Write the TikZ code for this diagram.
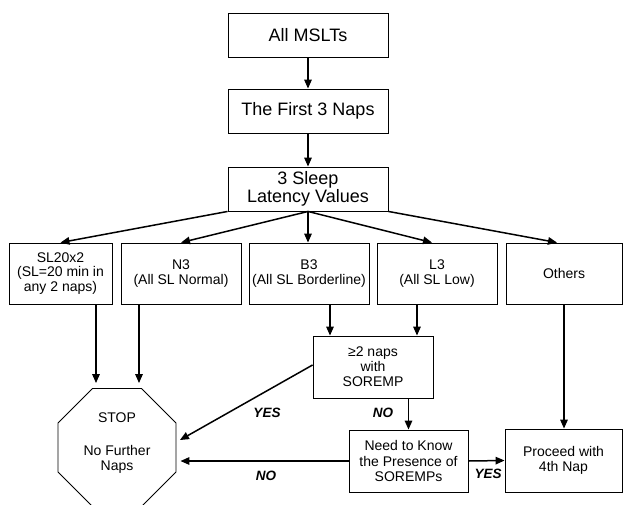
\documentclass[tikz,border=0pt]{standalone}
\usepackage{fontspec}
\setmainfont{Liberation Sans}
\usetikzlibrary{arrows.meta,shapes.geometric,calc}
\begin{document}
\begin{tikzpicture}[x=1pt,y=-1pt,
  box/.style={draw, line width=0.9pt, inner sep=2pt, align=center, font=\fontsize{14}{15.5}\selectfont},
  bigbox/.style={box, minimum width=160pt, minimum height=44pt, font=\fontsize{18}{17.5}\selectfont},
  rowbox/.style={box, minimum height=61pt},
  arr/.style={line width=1.5pt, -{Triangle[length=9pt,width=7.5pt]}},
  lab/.style={font=\fontsize{13.5}{13.5}\selectfont\bfseries\itshape}]
\useasboundingbox (0,0) rectangle (623,504);
\node[bigbox] (all) at (308,35) {All MSLTs};
\node[bigbox] (first) at (308,111) {The First 3 Naps};
\node[bigbox] (slv) at (308,189) {3 Sleep\\Latency Values};
\node[rowbox, minimum width=103pt, font=\fontsize{14}{14.3}\selectfont] (sl20) at (60.5,273.5) {SL20x2\\(SL=20 min in\\any 2 naps)};
\node[rowbox, minimum width=120pt] (n3) at (181,273.5) {N3\\(All SL Normal)};
\node[rowbox, minimum width=120pt] (b3) at (309,273.5) {B3\\(All SL Borderline)};
\node[rowbox, minimum width=120pt] (l3) at (437,273.5) {L3\\(All SL Low)};
\node[rowbox, minimum width=116pt] (oth) at (564,273.5) {Others};
\node[box, minimum width=120pt, minimum height=62pt, font=\fontsize{14}{15}\selectfont] (two) at (373,367) {≥2 naps\\with\\SOREMP};
\node[box, minimum width=119pt, minimum height=62pt] (need) at (408.5,461) {Need to Know\\the Presence of\\SOREMPs};
\node[box, minimum width=117pt, minimum height=63pt] (proc) at (563.5,460.5) {Proceed with\\4th Nap};
\node[regular polygon, regular polygon sides=8, draw, line width=0.9pt, minimum size=127.7pt, inner sep=0pt] (stop) at (117,447.5) {};
\node[align=center, font=\fontsize{14}{15}\selectfont] (stoptxt) at (117,443.5) {STOP\\[18pt]No Further\\Naps};
\node[lab] (yes1) at (267,413) {YES};
\node[lab] (no1) at (266,476) {NO};
\node[lab] (no2) at (383,413) {NO};
\node[lab] (yes2) at (488,474) {YES};
\draw[arr] (all) -- (first);
\draw[arr] (first) -- (slv);
\draw[arr] (slv.south west) -- (sl20.north);
\draw[arr] (slv.south) -- (n3.north);
\draw[arr] (slv.south) -- (slv.south |- b3.north);
\draw[arr] (slv.south) -- ([xshift=-5pt]l3.north);
\draw[arr] (slv.south east) -- ([xshift=-7pt]oth.north);
\draw[arr, shorten >=5pt] ([xshift=35.5pt]sl20.south) -- ([xshift=35.5pt]sl20.south |- stop.north);
\draw[arr, shorten >=5pt] ([xshift=-42pt]n3.south) -- ([xshift=-42pt]n3.south |- stop.north);
\draw[arr] ([xshift=21pt]b3.south) -- ([xshift=21pt]b3.south |- two.north);
\draw[arr] ([xshift=-20pt]l3.south) -- ([xshift=-20pt]l3.south |- two.north);
\draw[arr, shorten >=4pt] ([yshift=2pt]two.west) -- ([yshift=5.5pt]stop.east);
\draw[arr, shorten >=4pt] (need.west) -- (need.west -| stop.east);
\draw[arr] (two.south -| need.north) -- (need.north);
\draw[arr] (need.east) -- (proc.west);
\draw[arr] (oth.south) -- (oth.south |- proc.north);
\end{tikzpicture}
\end{document}
